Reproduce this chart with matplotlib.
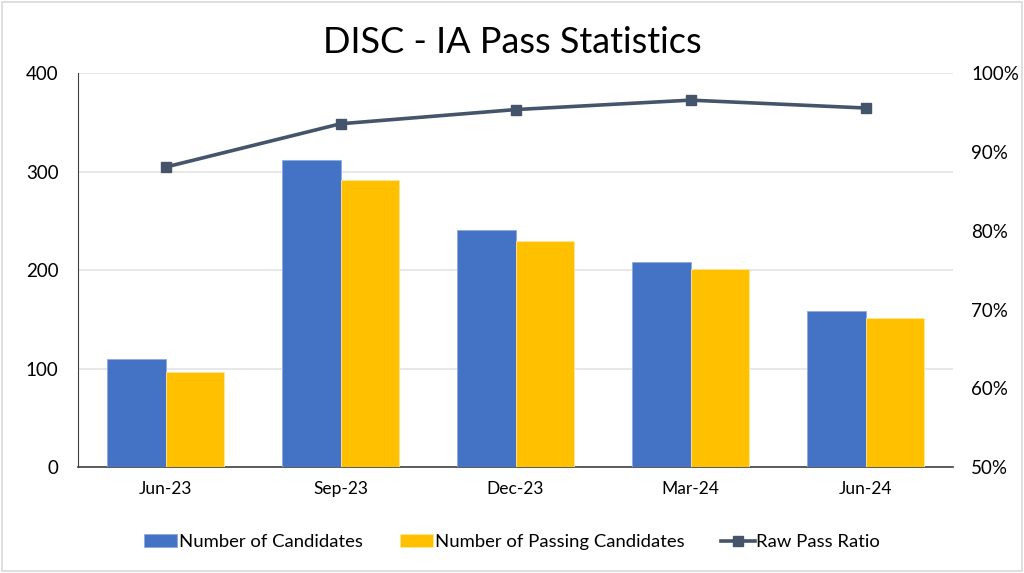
import numpy as np
import matplotlib.pyplot as plt
from matplotlib.ticker import PercentFormatter

plt.rcParams['font.family'] = ['Lato', 'DejaVu Sans']

# Данные
periods = ['Jun-23', 'Sep-23', 'Dec-23', 'Mar-24', 'Jun-24']
candidates = [110, 312, 241, 208, 159]
passing = [97, 292, 230, 201, 152]
pass_ratio = [88.1, 93.6, 95.4, 96.6, 95.6]

blue = '#4472C4'
gold = '#FFC000'
slate = '#44546A'

fig = plt.figure(figsize=(10.24, 5.73), dpi=100)
ax = fig.add_axes([0.0762, 0.1845, 0.8545, 0.6875])
ax2 = ax.twinx()

x = np.arange(len(periods))
w = 0.335
b1 = ax.bar(x - w / 2, candidates, w, color=blue, edgecolor='#8FAADC', linewidth=0.6,
            label='Number of Candidates', zorder=3)
b2 = ax.bar(x + w / 2, passing, w, color=gold, edgecolor='#FFE699', linewidth=0.6,
            label='Number of Passing Candidates', zorder=3)
ln, = ax2.plot(x, pass_ratio, color=slate, linewidth=2.6, marker='s', markersize=7,
               label='Raw Pass Ratio', zorder=4)

# Оси
ax.set_xlim(-0.5, len(periods) - 0.5)
ax.set_ylim(0, 400)
ax.set_yticks([0, 100, 200, 300, 400])
ax2.set_ylim(50, 100)
ax2.set_yticks([50, 60, 70, 80, 90, 100])
ax2.yaxis.set_major_formatter(PercentFormatter(decimals=0))

ax.set_xticks(x)
ax.set_xticklabels(periods, fontsize=12.5)
ax.tick_params(axis='x', length=0, pad=10)
ax.tick_params(axis='y', length=0, labelsize=13.5, pad=14)
ax2.tick_params(axis='y', length=0, labelsize=13.5, pad=13)

ax.grid(axis='y', color='#E4E4E4', linewidth=1.2, zorder=0)
ax.set_axisbelow(True)
for a in (ax, ax2):
    for s in a.spines.values():
        s.set_visible(False)
ax.spines['left'].set_visible(True)
ax.spines['left'].set_color('#404040')
ax.spines['bottom'].set_visible(True)
ax.spines['bottom'].set_color('#404040')
ax.spines['bottom'].set_linewidth(1.2)

fig.text(0.5, 0.925, 'DISC - IA Pass Statistics', ha='center', va='center', fontsize=26)

fig.legend(handles=[b1, b2, ln], loc='center', bbox_to_anchor=(0.5, 0.054), ncol=3,
           frameon=False, fontsize=13.3, handlelength=1.8, handletextpad=0.1, columnspacing=2.0)

# Рамка
fig.patches.append(plt.Rectangle((0.002, 0.003), 0.996, 0.994, transform=fig.transFigure,
                                 fill=False, edgecolor='#D9D9D9', linewidth=1.2))

fig.savefig('out.png', dpi=100)
